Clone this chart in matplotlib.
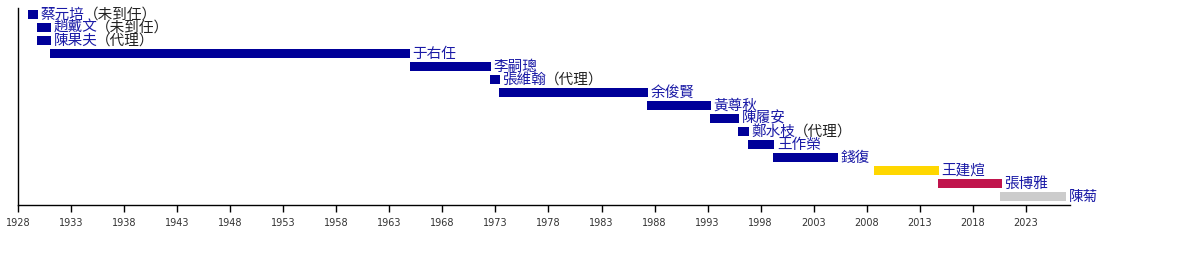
import matplotlib.pyplot as plt

plt.rcParams['font.family'] = ['Noto Sans CJK TC', 'DejaVu Sans']

# 監察院院長 任期
names = ["蔡元培", "趙戴文", "陳果夫", "于右任", "李嗣璁", "張維翰", "余俊賢", "黃尊秋",
         "陳履安", "鄭水枝", "王作榮", "錢復", "王建煊", "張博雅", "陳菊"]
notes = ["（未到任）", "（未到任）", "（代理）", "", "", "（代理）", "", "",
         "", "（代理）", "", "", "", "", ""]
starts = [1928.9, 1929.8, 1929.8, 1931.0, 1964.9, 1972.5, 1973.3, 1987.3,
          1993.2, 1995.9, 1996.8, 1999.2, 2008.7, 2014.7, 2020.6]
ends = [1929.9, 1931.1, 1931.1, 1964.9, 1972.6, 1973.4, 1987.4, 1993.3,
        1995.95, 1996.9, 1999.3, 2005.3, 2014.8, 2020.7, 2026.8]
colors = ["#000099"] * 12 + ["#ffd700", "#c0144c", "#cccccc"]
tick_years = list(range(1928, 2024, 5))

W, H = 1200, 256
fig = plt.figure(figsize=(W / 100, H / 100), dpi=100)
x0, x1 = 18, 1070
y_top, y_bot = 8, 205
ax = fig.add_axes([x0 / W, 1 - y_bot / H, (x1 - x0) / W, (y_bot - y_top) / H])

px_per_year = 10.61
ax.set_xlim(1928, 1928 + (x1 - x0) / px_per_year)
ax.set_ylim(14.65, -0.5)

for i, (n, note, s, e, c) in enumerate(zip(names, notes, starts, ends, colors)):
    ax.barh(i, e - s, left=s, height=0.69, color=c, linewidth=0)
    t = ax.annotate(n, xy=(e, i), xytext=(2, 0), textcoords="offset points",
                    va="center", ha="left", fontsize=10.5, color="#1a1aa6",
                    fontweight="medium", annotation_clip=False)
    if note:
        # 註記接在名字後面，黑色
        ax.annotate(note, xy=(1, 0.5), xycoords=t, xytext=(-1, 0),
                    textcoords="offset points", va="center", ha="left",
                    fontsize=10.5, color="#222222", annotation_clip=False)

for side in ["top", "right"]:
    ax.spines[side].set_visible(False)
ax.spines["left"].set_linewidth(1)
ax.spines["bottom"].set_linewidth(1)
ax.set_yticks([])
ax.set_xticks(tick_years)
ax.set_xticklabels([str(y) for y in tick_years], fontsize=7, color="#333333",
                   family="DejaVu Sans")
ax.tick_params(axis="x", length=5, width=1, pad=4)

fig.savefig("out.png", dpi=100)
